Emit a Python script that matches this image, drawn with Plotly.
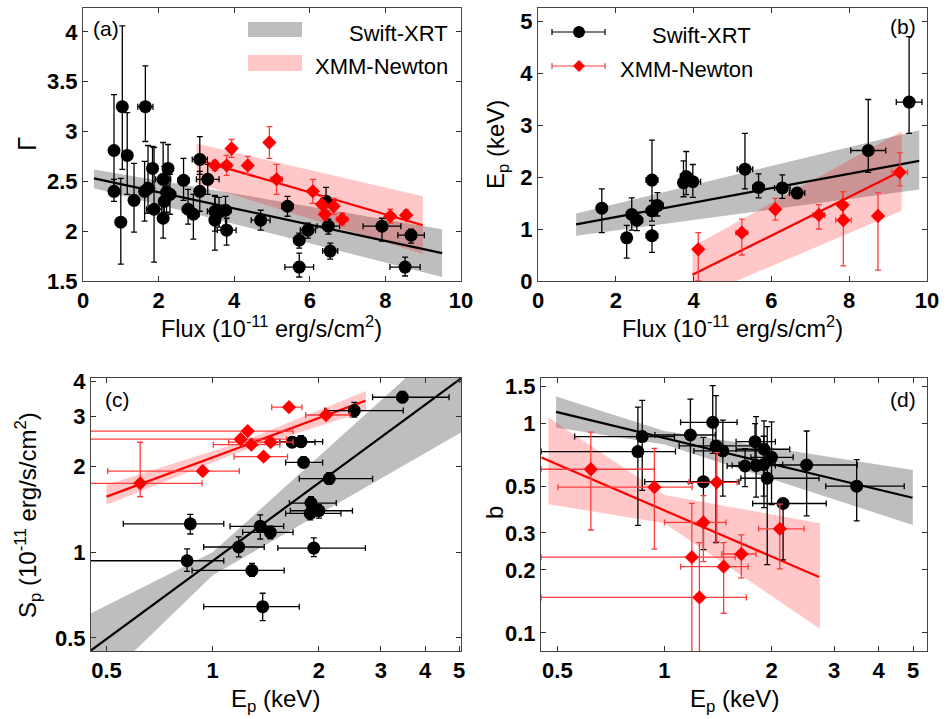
import plotly.graph_objects as go

W, H = 947, 719
FONT = "Liberation Sans, Arial, Helvetica, sans-serif"

# ---------------- Panel (a): Gamma vs Flux ----------------
a_sw_flux = [0.82, 0.82, 1.04, 1.00, 1.17, 1.35, 1.65, 1.63, 1.72, 1.84, 1.88, 2.12, 2.12, 2.15, 2.25, 2.21, 2.30,
             2.66, 2.78, 2.92, 3.09, 3.09, 3.30, 3.49, 3.49, 3.60, 3.77, 3.80, 4.70, 5.41, 5.72, 5.72, 5.95,
             6.43, 6.49, 6.54, 7.91, 8.68, 8.52]
a_sw_gamma = [2.81, 2.40, 3.25, 2.09, 2.76, 2.31, 3.25, 2.40, 2.43, 2.63, 2.22, 2.52, 2.13, 2.30, 2.63, 2.39, 2.37,
              2.51, 2.22, 2.17, 2.72, 2.40, 2.52, 2.20, 2.11, 2.19, 2.21, 2.01, 2.11, 2.25, 1.91, 1.64, 2.01,
              2.30, 2.05, 1.80, 2.05, 1.96, 1.64]
a_sw_flux_err = [0.05, 0.05, 0.10, 0.05, 0.05, 0.05, 0.20, 0.08, 0.10, 0.08, 0.20, 0.20, 0.10, 0.10, 0.10, 0.10, 0.15,
                 0.15, 0.15, 0.15, 0.20, 0.10, 0.30, 0.20, 0.10, 0.15, 0.15, 0.25, 0.25, 0.15, 0.10, 0.38, 0.20,
                 0.10, 0.30, 0.20, 0.50, 0.35, 0.40]
a_sw_gamma_errp = [0.56, 0.12, 0.81, 0.44, 0.43, 0.37, 0.41, 0.30, 0.43, 0.22, 0.62, 0.37, 0.20, 0.35, 0.24, 0.25, 0.20,
                   0.22, 0.20, 0.20, 0.23, 0.20, 0.15, 0.15, 0.25, 0.15, 0.14, 0.12, 0.10, 0.10, 0.07, 0.14, 0.07,
                   0.14, 0.07, 0.08, 0.08, 0.06, 0.10]
a_sw_gamma_errm = [0.45, 0.10, 0.63, 0.42, 0.39, 0.32, 0.35, 0.30, 0.25, 0.20, 0.53, 0.20, 0.20, 0.15, 0.20, 0.20, 0.20,
                   0.20, 0.15, 0.25, 0.15, 0.20, 0.15, 0.20, 0.30, 0.15, 0.15, 0.15, 0.10, 0.10, 0.08, 0.10, 0.08,
                   0.10, 0.08, 0.08, 0.15, 0.08, 0.09]
a_xmm_flux = [3.49, 3.80, 3.93, 4.36, 4.93, 5.12, 6.08, 6.32, 6.40, 6.63, 6.86, 8.13, 8.55]
a_xmm_gamma = [2.66, 2.66, 2.83, 2.66, 2.89, 2.52, 2.40, 2.27, 2.17, 2.25, 2.12, 2.15, 2.16]
a_xmm_flux_err = [0.08, 0.12, 0.08, 0.10, 0.08, 0.15, 0.10, 0.10, 0.10, 0.10, 0.15, 0.12, 0.05]
a_xmm_gamma_err = [0.05, 0.10, 0.09, 0.09, 0.16, 0.15, 0.12, 0.08, 0.06, 0.08, 0.06, 0.07, 0.05]
a_sw_fit_x = [0.29, 9.5]
a_sw_fit_y = [2.53, 1.78]
a_sw_band_lo = [2.43, 1.54]
a_sw_band_hi = [2.62, 2.02]
a_xmm_fit_x = [3.0, 8.99]
a_xmm_fit_y = [2.72, 2.06]
a_xmm_band_lo = [2.48, 1.77]
a_xmm_band_hi = [2.88, 2.35]

# ---------------- Panel (b): Ep vs Flux ----------------
b_sw_flux = [1.64, 2.28, 2.41, 2.54, 2.93, 2.93, 2.93, 3.07, 3.74, 3.81, 3.98, 5.32, 5.67, 6.28, 6.66, 8.49, 9.54]
b_sw_ep = [1.40, 0.83, 1.28, 1.17, 1.94, 1.35, 0.87, 1.45, 1.89, 2.01, 1.91, 2.15, 1.80, 1.79, 1.69, 2.51, 3.44]
b_sw_flux_err = [0.10, 0.10, 0.10, 0.15, 0.15, 0.15, 0.15, 0.15, 0.10, 0.15, 0.20, 0.20, 0.15, 0.20, 0.20, 0.45, 0.33]
b_sw_ep_errp = [0.37, 0.24, 0.32, 0.15, 0.77, 0.20, 0.20, 0.25, 0.42, 0.48, 0.33, 0.69, 0.26, 0.25, 0.10, 0.98, 1.26]
b_sw_ep_errm = [0.47, 0.39, 0.30, 0.20, 0.40, 0.20, 0.32, 0.20, 0.27, 0.35, 0.30, 0.38, 0.20, 0.20, 0.10, 0.42, 0.60]
b_xmm_flux = [4.12, 5.24, 6.10, 7.22, 7.83, 7.85, 8.74, 9.30]
b_xmm_ep = [0.61, 0.93, 1.38, 1.27, 1.46, 1.17, 1.25, 2.09]
b_xmm_flux_err = [0.05, 0.15, 0.10, 0.15, 0.10, 0.20, 0.05, 0.20]
b_xmm_ep_errp = [0.32, 0.26, 0.21, 0.20, 0.26, 0.55, 0.45, 0.38]
b_xmm_ep_errm = [0.61, 0.43, 0.21, 0.27, 0.20, 0.88, 1.04, 0.26]
b_sw_fit_x = [0.98, 9.8]
b_sw_fit_y = [1.09, 2.31]
b_sw_band_lo = [0.87, 1.76]
b_sw_band_hi = [1.30, 2.90]
b_xmm_fit_x = [3.97, 9.35]
b_xmm_fit_y = [0.12, 2.12]
b_xmm_band_lo = [-0.36, 1.35]
b_xmm_band_hi = [0.66, 2.88]

# ---------------- Panel (c): Sp vs Ep (log-log) ----------------
c_sw_ep = [3.45, 2.52, 1.68, 1.78, 1.81, 2.14, 1.90, 1.89, 2.00, 0.864, 1.364, 1.457, 1.185, 1.935, 0.846, 1.292, 1.386]
c_sw_sp = [3.51, 3.15, 2.44, 2.45, 2.07, 1.815, 1.49, 1.37, 1.40, 1.26, 1.234, 1.176, 1.044, 1.035, 0.934, 0.864, 0.644]
c_sw_ep_lo = [2.84, 2.08, 1.45, 1.55, 1.61, 1.76, 1.65, 1.61, 1.66, 0.558, 1.12, 1.216, 0.943, 1.53, 0.40, 0.874, 0.943]
c_sw_ep_hi = [4.68, 3.47, 1.95, 2.05, 2.05, 2.84, 2.24, 2.31, 2.49, 1.075, 1.59, 1.69, 1.40, 2.71, 1.075, 1.595, 1.76]
c_sw_sp_errp = [0.17, 0.22, 0.10, 0.12, 0.10, 0.09, 0.08, 0.07, 0.07, 0.10, 0.12, 0.06, 0.09, 0.09, 0.095, 0.05, 0.074]
c_sw_sp_errm = [0.15, 0.16, 0.10, 0.10, 0.08, 0.08, 0.07, 0.07, 0.08, 0.10, 0.12, 0.06, 0.08, 0.07, 0.077, 0.04, 0.069]
c_xmm_ep = [1.646, 2.096, 1.257, 1.20, 1.287, 1.46, 1.394, 0.937, 0.623]
c_xmm_sp = [3.24, 3.04, 2.67, 2.50, 2.39, 2.44, 2.17, 1.93, 1.748]
c_xmm_ep_lo = [1.47, 1.835, 0.40, 0.40, 1.004, 1.11, 1.15, 0.504, 0.40]
c_xmm_ep_hi = [1.79, 2.45, 1.69, 1.62, 1.55, 1.69, 1.63, 1.19, 0.933]
c_xmm_sp_errp = [0.04, 0.05, 0.05, 0.05, 0.04, 0.04, 0.05, 0.06, 0.69]
c_xmm_sp_errm = [0.04, 0.05, 0.05, 0.05, 0.04, 0.04, 0.05, 0.06, 0.18]
c_sw_fit_x = [0.452, 5.06]
c_sw_fit_y = [0.452, 4.09]
c_sw_band_x = [0.452, 1.0, 5.06]
c_sw_band_lo = [0.32, 0.83, 2.64]
c_sw_band_hi = [0.61, 1.0, 6.15]
c_xmm_fit_x = [0.50, 2.71]
c_xmm_fit_y = [1.57, 3.41]
c_xmm_band_x = [0.50, 1.2, 2.72]
c_xmm_band_lo = [1.47, 2.26, 3.14]
c_xmm_band_hi = [1.73, 2.44, 3.69]

# ---------------- Panel (d): b vs Ep (log-log) ----------------
d_sw_ep = [3.47, 2.51, 2.155, 2.00, 1.945, 1.905, 1.90, 1.81, 1.797, 1.685, 1.459, 1.396, 1.367, 1.287, 1.183, 0.866, 0.842]
d_sw_b = [0.502, 0.634, 0.415, 0.69, 0.548, 0.754, 0.637, 0.63, 0.82, 0.627, 0.74, 0.782, 1.014, 0.528, 0.882, 0.867, 0.735]
d_sw_ep_lo = [2.84, 1.95, 1.77, 1.75, 1.64, 1.59, 1.62, 1.55, 1.59, 1.50, 1.21, 1.10, 1.11, 0.88, 0.94, 0.559, 0.45]
d_sw_ep_hi = [4.72, 3.48, 2.85, 2.30, 2.72, 2.25, 2.15, 2.05, 2.05, 1.95, 1.90, 1.90, 1.60, 1.62, 1.39, 1.067, 1.074]
d_sw_b_hi = [0.673, 0.922, 0.43, 1.02, 0.967, 1.03, 0.87, 1.08, 1.00, 0.76, 1.04, 1.36, 1.52, 0.86, 1.31, 1.29, 1.20]
d_sw_b_lo = [0.343, 0.362, 0.223, 0.41, 0.212, 0.397, 0.45, 0.445, 0.65, 0.50, 0.45, 0.27, 0.72, 0.25, 0.52, 0.48, 0.326]
d_xmm_ep = [0.621, 0.937, 1.403, 1.287, 2.11, 1.645, 1.194, 1.467, 1.254]
d_xmm_b = [0.605, 0.497, 0.524, 0.337, 0.314, 0.238, 0.23, 0.207, 0.1476]
d_xmm_ep_lo = [0.45, 0.502, 1.17, 1.00, 1.84, 1.45, 0.45, 1.11, 0.45]
d_xmm_ep_hi = [0.937, 1.196, 1.60, 1.49, 2.47, 1.81, 1.58, 1.72, 1.70]
d_xmm_b_hi = [0.91, 0.762, 0.727, 0.453, 0.412, 0.294, 0.416, 0.27, 0.27]
d_xmm_b_lo = [0.31, 0.251, 0.272, 0.219, 0.202, 0.183, 0.07, 0.124, 0.07]
d_sw_fit_x = [0.496, 4.98]
d_sw_fit_y = [1.137, 0.442]
d_sw_band_x = [0.496, 1.0, 4.99]
d_sw_band_lo = [0.957, 0.794, 0.328]
d_sw_band_hi = [1.346, 0.923, 0.600]
d_xmm_fit_x = [0.451, 2.72]
d_xmm_fit_y = [0.688, 0.185]
d_xmm_band_x = [0.472, 1.0, 2.735]
d_xmm_band_lo = [0.412, 0.334, 0.1045]
d_xmm_band_hi = [1.069, 0.456, 0.334]

# log tick labels
c_xticks = [0.5, 1, 2, 3, 4, 5]
c_yticks = [0.5, 1, 2, 3, 4]
d_yticks = [0.1, 0.2, 0.3, 0.5, 1, 1.5]

# ---------------- styles ----------------
GRAY = "rgb(190,190,190)"
PINK = "rgba(255,0,0,0.22)"
BLACK = "black"
RED = "rgb(255,0,0)"
RED_ERR = "rgb(255,60,60)"


def diff(a, b):
    return [x - y for x, y in zip(a, b)]


fig = go.Figure()


def band(xs, lo, hi, color, ax):
    fig.add_trace(go.Scatter(x=list(xs) + list(xs)[::-1], y=list(hi) + list(lo)[::-1], fill="toself",
                             fillcolor=color, line=dict(width=0), mode="lines", hoverinfo="skip",
                             showlegend=False, xaxis="x" + ax, yaxis="y" + ax))


def fitline(xs, ys, color, ax):
    fig.add_trace(go.Scatter(x=xs, y=ys, mode="lines", line=dict(color=color, width=2.2),
                             showlegend=False, xaxis="x" + ax, yaxis="y" + ax))


def points(x, y, xp, xm, yp, ym, kind, ax):
    if kind == "sw":
        mk = dict(symbol="circle", size=13, color=BLACK)
        ec = BLACK
    else:
        mk = dict(symbol="diamond", size=11, color=RED)
        ec = RED_ERR
    fig.add_trace(go.Scatter(
        x=x, y=y, mode="markers", marker=mk, showlegend=False,
        error_x=dict(type="data", symmetric=False, array=xp, arrayminus=xm, color=ec, thickness=1.3, width=3),
        error_y=dict(type="data", symmetric=False, array=yp, arrayminus=ym, color=ec, thickness=1.3, width=3),
        xaxis="x" + ax, yaxis="y" + ax))


# (a)
band(a_sw_fit_x, a_sw_band_lo, a_sw_band_hi, GRAY, "")
band(a_xmm_fit_x, a_xmm_band_lo, a_xmm_band_hi, PINK, "")
fitline(a_sw_fit_x, a_sw_fit_y, BLACK, "")
fitline(a_xmm_fit_x, a_xmm_fit_y, RED, "")
points(a_sw_flux, a_sw_gamma, a_sw_flux_err, a_sw_flux_err, a_sw_gamma_errp, a_sw_gamma_errm, "sw", "")
points(a_xmm_flux, a_xmm_gamma, a_xmm_flux_err, a_xmm_flux_err, a_xmm_gamma_err, a_xmm_gamma_err, "xmm", "")

# (b)
band(b_sw_fit_x, b_sw_band_lo, b_sw_band_hi, GRAY, "2")
band(b_xmm_fit_x, b_xmm_band_lo, b_xmm_band_hi, PINK, "2")
fitline(b_sw_fit_x, b_sw_fit_y, BLACK, "2")
fitline(b_xmm_fit_x, b_xmm_fit_y, RED, "2")
points(b_sw_flux, b_sw_ep, b_sw_flux_err, b_sw_flux_err, b_sw_ep_errp, b_sw_ep_errm, "sw", "2")
points(b_xmm_flux, b_xmm_ep, b_xmm_flux_err, b_xmm_flux_err, b_xmm_ep_errp, b_xmm_ep_errm, "xmm", "2")

# (c)
band(c_sw_band_x, c_sw_band_lo, c_sw_band_hi, GRAY, "3")
band(c_xmm_band_x, c_xmm_band_lo, c_xmm_band_hi, PINK, "3")
fitline(c_sw_fit_x, c_sw_fit_y, BLACK, "3")
fitline(c_xmm_fit_x, c_xmm_fit_y, RED, "3")
points(c_sw_ep, c_sw_sp, diff(c_sw_ep_hi, c_sw_ep), diff(c_sw_ep, c_sw_ep_lo), c_sw_sp_errp, c_sw_sp_errm, "sw", "3")
points(c_xmm_ep, c_xmm_sp, diff(c_xmm_ep_hi, c_xmm_ep), diff(c_xmm_ep, c_xmm_ep_lo), c_xmm_sp_errp, c_xmm_sp_errm,
       "xmm", "3")

# (d)
band(d_sw_band_x, d_sw_band_lo, d_sw_band_hi, GRAY, "4")
band(d_xmm_band_x, d_xmm_band_lo, d_xmm_band_hi, PINK, "4")
fitline(d_sw_fit_x, d_sw_fit_y, BLACK, "4")
fitline(d_xmm_fit_x, d_xmm_fit_y, RED, "4")
points(d_sw_ep, d_sw_b, diff(d_sw_ep_hi, d_sw_ep), diff(d_sw_ep, d_sw_ep_lo), diff(d_sw_b_hi, d_sw_b),
       diff(d_sw_b, d_sw_b_lo), "sw", "4")
points(d_xmm_ep, d_xmm_b, diff(d_xmm_ep_hi, d_xmm_ep), diff(d_xmm_ep, d_xmm_ep_lo), diff(d_xmm_b_hi, d_xmm_b),
       diff(d_xmm_b, d_xmm_b_lo), "xmm", "4")

# ---------------- axes ----------------
common = dict(showgrid=False, zeroline=False, ticks="inside", ticklen=5, tickwidth=1, tickcolor="#333",
              showline=True, linecolor="#444", linewidth=1, mirror="allticks", automargin=False,
              tickfont=dict(family=FONT, size=22, color="black", weight="bold"))


def px(v):
    return v / W


def py(v):
    return 1 - v / H


fig.update_layout(
    width=W, height=H, autosize=False, margin=dict(l=0, r=0, t=0, b=0, autoexpand=False),
    paper_bgcolor="white", plot_bgcolor="white", showlegend=False,
    xaxis=dict(common, domain=[px(83), px(461)], range=[0, 10], dtick=2, anchor="y"),
    yaxis=dict(common, domain=[py(281), py(8)], range=[1.5, 4.24], dtick=0.5, anchor="x"),
    xaxis2=dict(common, domain=[px(538), px(927)], range=[0, 10], dtick=2, anchor="y2"),
    yaxis2=dict(common, domain=[py(281), py(8)], range=[0, 5.25], dtick=1, anchor="x2"),
    xaxis3=dict(common, domain=[px(91), px(461)], type="log", range=[-0.345, 0.704], tickvals=c_xticks,
                ticktext=[str(v) for v in c_xticks], anchor="y3"),
    yaxis3=dict(common, domain=[py(651), py(378)], type="log", range=[-0.347, 0.613], tickvals=c_yticks,
                ticktext=[str(v) for v in c_yticks], anchor="x3"),
    xaxis4=dict(common, domain=[px(541), px(927)], type="log", range=[-0.347, 0.738], tickvals=c_xticks,
                ticktext=[str(v) for v in c_xticks], anchor="y4"),
    yaxis4=dict(common, domain=[py(651), py(378)], type="log", range=[-1.087, 0.218], tickvals=d_yticks,
                ticktext=[str(v) for v in d_yticks], anchor="x4"),
)

# ---------------- text ----------------
ann = []


def text(t, x, y, size=22, angle=0, xanchor="center"):
    ann.append(dict(text=t, x=px(x), y=py(y), xref="paper", yref="paper", showarrow=False,
                    font=dict(family=FONT, size=size, color="black"), textangle=angle,
                    xanchor=xanchor, yanchor="middle"))


flux_title = "Flux (10<sup>-11</sup> erg/s/cm<sup>2</sup>)"
text(flux_title, 271, 327, size=23.5)
text(flux_title, 732, 327, size=23.5)
text("Γ", 27, 144, size=26, angle=-90)
text("E<sub>p</sub> (keV)", 497, 145, size=24, angle=-90)
text("S<sub>p</sub> (10<sup>-11</sup> erg/s/cm<sup>2</sup>)", 28, 515, size=24, angle=-90)
text("b", 494, 513, size=24, angle=-90)
text("E<sub>p</sub> (keV)", 275, 700, size=24)
text("E<sub>p</sub> (keV)", 734, 700, size=24)
text("(a)", 106, 29, size=21)
text("(b)", 903, 27, size=21)
text("(c)", 117, 399, size=21)
text("(d)", 903, 399, size=21)
text("Swift-XRT", 450, 33, xanchor="right")
text("XMM-Newton", 450, 67, xanchor="right")
text("Swift-XRT", 753, 35, xanchor="right")
text("XMM-Newton", 755, 69, xanchor="right")
fig.update_layout(annotations=ann)

# ---------------- legend swatches ----------------
shapes = [
    dict(type="rect", xref="paper", yref="paper", x0=px(248), x1=px(302), y0=py(37), y1=py(22),
         fillcolor=GRAY, line=dict(width=0)),
    dict(type="rect", xref="paper", yref="paper", x0=px(248), x1=px(302), y0=py(71), y1=py(55),
         fillcolor=PINK, line=dict(width=0)),
]
for yy, col, kind in [(32, BLACK, "sw"), (66, RED_ERR, "xmm")]:
    shapes.append(dict(type="line", xref="paper", yref="paper", x0=px(552), x1=px(605), y0=py(yy), y1=py(yy),
                       line=dict(color=col, width=1.2)))
    for xx in (552, 605):
        shapes.append(dict(type="line", xref="paper", yref="paper", x0=px(xx), x1=px(xx), y0=py(yy - 3),
                           y1=py(yy + 3), line=dict(color=col, width=1.2)))
    if kind == "sw":
        shapes.append(dict(type="circle", xref="paper", yref="paper", x0=px(573), x1=px(585), y0=py(yy + 6),
                           y1=py(yy - 6), fillcolor=BLACK, line=dict(width=0)))
    else:
        path = "M {} {} L {} {} L {} {} L {} {} Z".format(px(579), py(yy - 6), px(585), py(yy), px(579), py(yy + 6),
                                                          px(573), py(yy))
        shapes.append(dict(type="path", xref="paper", yref="paper", path=path, fillcolor=RED, line=dict(width=0)))
fig.update_layout(shapes=shapes)

fig.write_html("out.html", config=dict(responsive=False, displayModeBar=False),
               post_script="document.body.style.margin='0';document.body.style.overflow='hidden';")
